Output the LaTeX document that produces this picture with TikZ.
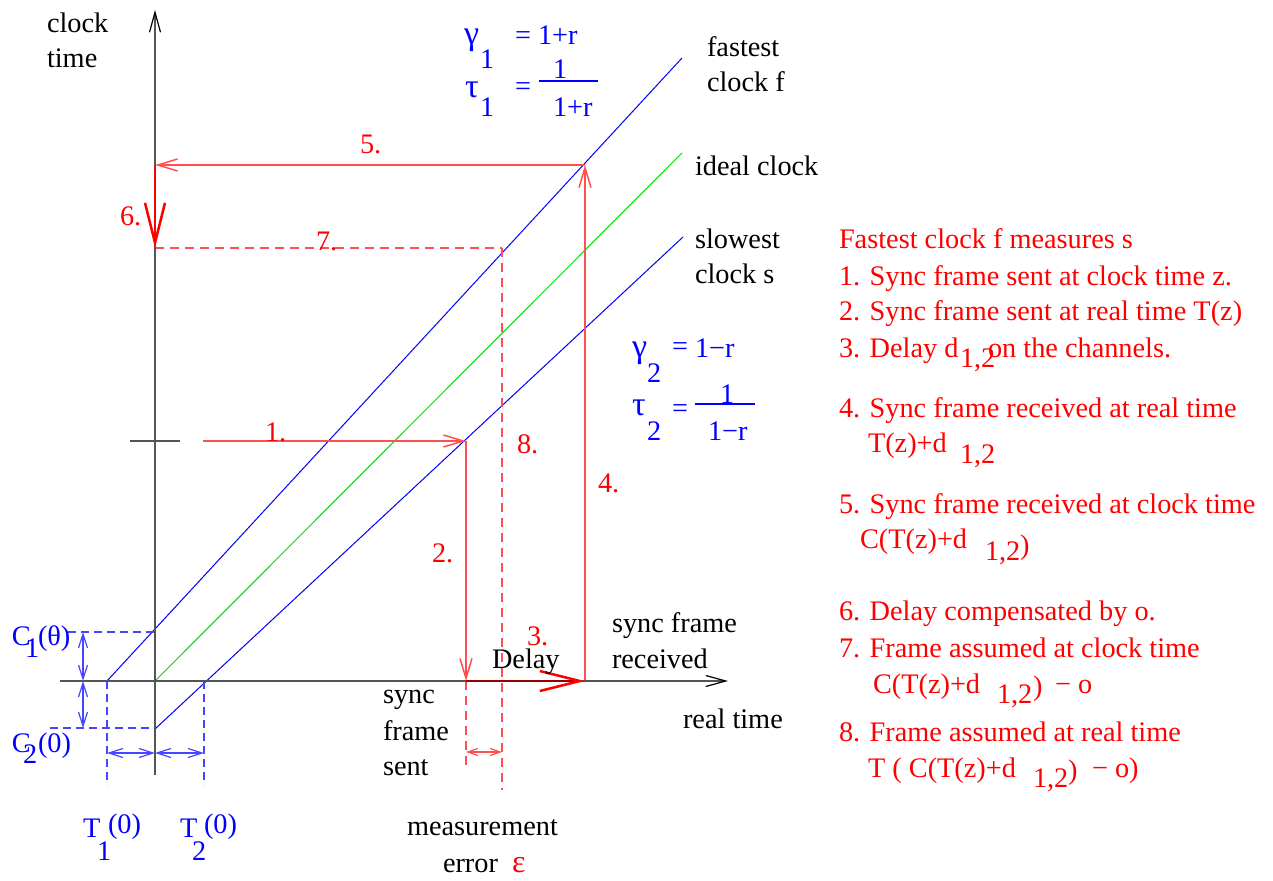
\documentclass[tikz,border=0pt]{standalone}
\usepackage{fontspec}
\setmainfont{Liberation Serif}
\usetikzlibrary{arrows.meta}
\definecolor{lred}{RGB}{255,80,80}
\definecolor{lblue}{RGB}{70,70,255}
\definecolor{axisgray}{RGB}{85,85,85}
\definecolor{clkgreen}{RGB}{0,220,0}
\definecolor{darkred}{RGB}{150,0,0}
\begin{document}
\begin{tikzpicture}[x=1pt,y=-1pt,
  every node/.style={inner sep=0pt, outer sep=0pt, anchor=base west, font=\fontsize{28.3}{34}\selectfont},
  blk/.style={text=black},
  rtxt/.style={text=red},
  btxt/.style={text=blue},
  bigreek/.style={font=\fontsize{34}{40}\selectfont},
  axisline/.style={draw=axisgray, line width=1.6pt, -{Straight Barb[length=20pt,width=11pt,line width=1.2pt,color=black]}},
  ticklin/.style={draw=axisgray, line width=1.6pt},
  fastslow/.style={draw=blue, line width=1pt},
  idealln/.style={draw=clkgreen, line width=1pt},
  redarrow/.style={draw=lred, line width=1.5pt, -{Straight Barb[length=20pt,width=12pt]}},
  reddash/.style={draw=lred, line width=1.5pt, dash pattern=on 9pt off 6pt},
  bluedash/.style={draw=lblue, line width=1.3pt, dash pattern=on 8pt off 5pt},
  bluedim/.style={draw=lblue, line width=1.2pt, {Straight Barb[length=14pt,width=9pt]}-{Straight Barb[length=14pt,width=9pt]}},
  reddim/.style={draw=lred, line width=1.2pt, {Straight Barb[length=10pt,width=7pt]}-{Straight Barb[length=10pt,width=7pt]}},
  bigarrow/.style={draw=red, line width=2.5pt, -{Straight Barb[length=40pt,width=20pt,color=red]}},
  fracline/.style={draw=blue, line width=1.3pt}
]
\useasboundingbox (0,0) rectangle (1273,880);

% ---------- coordinates ----------
\coordinate (O) at (155,681);
\coordinate (Ytop) at (155,10);
\coordinate (Ybot) at (155,775);
\coordinate (Xleft) at (60,681);
\coordinate (Xright) at (728,681);
\coordinate (tickL) at (130,441);
\coordinate (tickR) at (180,441);

\coordinate (F0) at (107,681);
\coordinate (F1) at (682,58);
\coordinate (I1) at (682,153);
\coordinate (S0) at (155,729);
\coordinate (S1) at (683,237);

\coordinate (P1s) at (203,441);
\coordinate (P1e) at (466,441);
\coordinate (P2e) at (466,681);
\coordinate (P3e) at (585,681);
\coordinate (P4e) at (585,165);
\coordinate (P5e) at (155,165);
\coordinate (P6e) at (155,248);
\coordinate (P7e) at (502,248);
\coordinate (P8e) at (502,790);
\coordinate (P2d) at (466,768);
\coordinate (E1) at (466,752);
\coordinate (E2) at (502,752);

\coordinate (C1a) at (68,632);
\coordinate (C1b) at (155,632);
\coordinate (C2a) at (50,728);
\coordinate (C2b) at (155,728);
\coordinate (T1a) at (107,681);
\coordinate (T1b) at (107,785);
\coordinate (T2a) at (204,681);
\coordinate (T2b) at (204,785);
\coordinate (D1) at (83,632);
\coordinate (D2) at (83,681);
\coordinate (D3) at (83,728);
\coordinate (H1) at (107,753);
\coordinate (H2) at (155,753);
\coordinate (H3) at (204,753);

% ---------- clock lines ----------
\draw[fastslow] (F0) -- (F1);
\draw[idealln] (O) -- (I1);
\draw[fastslow] (S0) -- (S1);

% ---------- blue dashed helpers ----------
\draw[bluedash] (C1a) -- (C1b);
\draw[bluedash] (C2a) -- (C2b);
\draw[bluedash] (T1a) -- (T1b);
\draw[bluedash] (T2a) -- (T2b);
\draw[bluedim] (D1) -- (D2);
\draw[bluedim] (D2) -- (D3);
\draw[bluedim] (H1) -- (H2);
\draw[bluedim] (H2) -- (H3);

% ---------- red construction ----------
\draw[reddash] (P6e) -- (P7e);
\draw[reddash] (P7e) -- (P8e);
\draw[reddash] (P2e) -- (P2d);
\draw[reddim] (E1) -- (E2);
\draw[redarrow] (P1s) -- (P1e);
\draw[redarrow] (P1e) -- (P2e);
\draw[redarrow] (P3e) -- (P4e);
\draw[redarrow] (P4e) -- (P5e);

% ---------- axes ----------
\draw[axisline] (Ybot) -- (Ytop);
\draw[axisline] (Xleft) -- (Xright);
\draw[ticklin] (tickL) -- (tickR);

% thick arrows
\draw[bigarrow, draw=darkred] (P2e) -- (P3e);
\draw[bigarrow] (P5e) -- (P6e);

% ---------- black labels ----------
\node[blk] (lclock) at (47,33) {clock};
\node[blk] (ltime) at (47,68) {time};
\node[blk] (lfast1) at (707,57) {fastest};
\node[blk] (lfast2) at (707,92) {clock f};
\node[blk] (lideal) at (695,175) {ideal clock};
\node[blk] (lslow1) at (695,248) {slowest};
\node[blk] (lslow2) at (695,283) {clock s};
\node[blk] (ldelay) at (492,668) {Delay};
\node[blk] (lrec1) at (612,632) {sync frame};
\node[blk] (lrec2) at (612,668) {received};
\node[blk] (lreal) at (683,728) {real time};
\node[blk] (lsent1) at (383,703) {sync};
\node[blk] (lsent2) at (383,740) {frame};
\node[blk] (lsent3) at (383,775) {sent};
\node[blk] (lmeas1) at (407,835) {measurement};
\node[blk] (lmeas2) at (443,872) {error};
\node[rtxt, font=\fontsize{32}{38}\selectfont] (leps) at (512,872) {ε};

% ---------- red step numbers ----------
\node[rtxt] (n1) at (265,441) {1.};
\node[rtxt] (n2) at (432,562) {2.};
\node[rtxt] (n3) at (527,645) {3.};
\node[rtxt] (n4) at (598,492) {4.};
\node[rtxt] (n5) at (360,153) {5.};
\node[rtxt] (n6) at (120,225) {6.};
\node[rtxt] (n7) at (316,250) {7.};
\node[rtxt] (n8) at (517,453) {8.};

% ---------- blue formulas ----------
\node[btxt, bigreek] (g1) at (464,45) {γ};
\node[btxt] (g1s) at (480,69) {1};
\node[btxt] (g1e) at (515,45) {= 1+r};
\node[btxt, bigreek] (t1) at (465,98) {τ};
\node[btxt] (t1s) at (480,117) {1};
\node[btxt] (t1e) at (515,96) {=};
\draw[fracline] (539,81) -- (598,81);
\node[btxt] (t1n) at (553,79) {1};
\node[btxt] (t1d) at (553,117) {1+r};

\node[btxt, bigreek] (g2) at (632,357) {γ};
\node[btxt] (g2s) at (647,382) {2};
\node[btxt] (g2e) at (672,355) {=};
\node[btxt] (g2r) at (695,357) {1−r};
\node[btxt, bigreek] (t2) at (632,415) {τ};
\node[btxt] (t2s) at (647,440) {2};
\node[btxt] (t2e) at (672,417) {=};
\draw[fracline] (695,404) -- (755,404);
\node[btxt] (t2n) at (720,403) {1};
\node[btxt] (t2d) at (708,440) {1−r};

\node[btxt] (c1) at (12,645) {C};
\node[btxt] (c1s) at (25,657) {1};
\node[btxt] (c1p) at (38,645) {(θ)};
\node[btxt] (c2) at (12,752) {C};
\node[btxt] (c2s) at (23,763) {2};
\node[btxt] (c2p) at (38,752) {(0)};
\node[btxt] (tt1) at (83,837) {T};
\node[btxt] (tt1p) at (108,833) {(0)};
\node[btxt] (tt1s) at (97,860) {1};
\node[btxt] (tt2) at (180,837) {T};
\node[btxt] (tt2p) at (204,833) {(0)};
\node[btxt] (tt2s) at (192,860) {2};

% ---------- right-hand legend ----------
\node[rtxt] (r0) at (839,248) {Fastest clock f measures s};
\node[rtxt] (r1) at (839,285) {1. Sync frame sent at clock time z.};
\node[rtxt] (r2) at (839,320) {2. Sync frame sent at real time T(z)};
\node[rtxt] (r3a) at (839,357) {3. Delay d};
\node[rtxt] (r3b) at (960,367) {1,2};
\node[rtxt] (r3c) at (988,357) {on the channels.};
\node[rtxt] (r4a) at (839,417) {4. Sync frame received at real time};
\node[rtxt] (r4b) at (868,452) {T(z)+d};
\node[rtxt] (r4c) at (960,463) {1,2};
\node[rtxt] (r5a) at (839,513) {5. Sync frame received at clock time};
\node[rtxt] (r5b) at (860,548) {C(T(z)+d};
\node[rtxt] (r5c) at (985,560) {1,2};
\node[rtxt] (r5d) at (1020,554) {)};
\node[rtxt] (r6) at (839,620) {6. Delay compensated by o.};
\node[rtxt] (r7a) at (839,657) {7. Frame assumed at clock time};
\node[rtxt] (r7b) at (873,693) {C(T(z)+d};
\node[rtxt] (r7c) at (997,703) {1,2};
\node[rtxt] (r7d) at (1033,695) {)};
\node[rtxt] (r7e) at (1055,693) {− o};
\node[rtxt] (r8a) at (839,741) {8. Frame assumed at real time};
\node[rtxt] (r8b) at (868,777) {T ( C(T(z)+d};
\node[rtxt] (r8c) at (1033,787) {1,2};
\node[rtxt] (r8d) at (1068,779) {)};
\node[rtxt] (r8e) at (1092,777) {− o)};
\end{tikzpicture}
\end{document}
